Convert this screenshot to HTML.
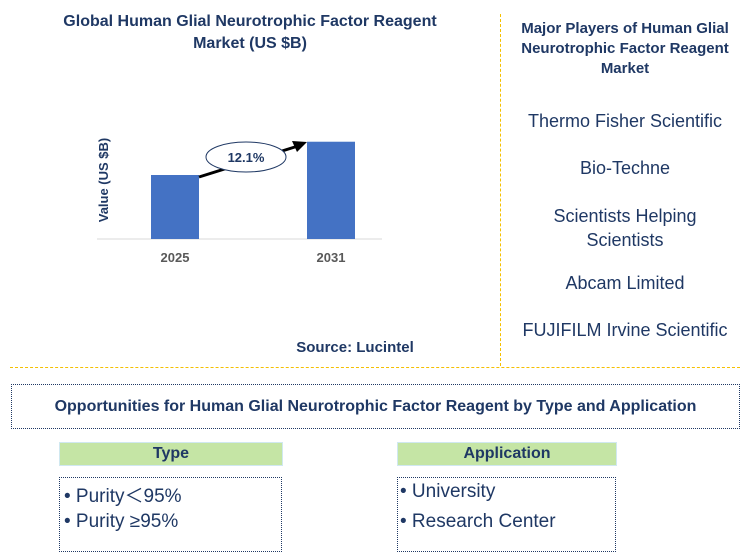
<!DOCTYPE html>
<html><head><meta charset="utf-8"><style>
body{margin:0;width:756px;height:559px;background:#fff;font-family:"Liberation Sans",Arial,sans-serif;position:relative;overflow:hidden}
.a{position:absolute}
.t{color:#1f3864;font-weight:bold;text-align:center}
.p{color:#1f3864;font-size:18px;text-align:center;width:250px;left:500px}
.box{border:1px dotted #1f3864}
.hd{background:#c5e5a5;color:#1f3864;font-weight:bold;font-size:16px;text-align:center;line-height:22px;border:1px solid #d0e8f0}
.it{color:#1f3864;font-size:19px}
</style></head><body>
<div class="a t" style="left:40px;top:11px;width:420px;font-size:16px;line-height:22px">Global Human Glial Neurotrophic Factor Reagent<br>Market (US $B)</div>
<svg class="a" style="left:0;top:0" width="500" height="360">
<text transform="translate(108,180) rotate(-90)" text-anchor="middle" font-size="13" font-weight="bold" fill="#1f3864" font-family="Liberation Sans">Value (US $B)</text>
<line x1="97" y1="239" x2="382" y2="239" stroke="#d9d9d9"/>
<g id="bars"></g>
<line x1="199" y1="177" x2="298" y2="146" stroke="#000" stroke-width="3"/>
<polygon points="307,142 292,141 297,152" fill="#000"/>
<ellipse cx="246" cy="157" rx="40" ry="15" fill="#fff" stroke="#1f3864"/>
<text x="246" y="162" text-anchor="middle" font-size="13" font-weight="bold" fill="#1f3864" font-family="Liberation Sans">12.1%</text>
</svg>
<div class="a t" style="left:270px;top:339px;width:170px;font-size:15px">Source: Lucintel</div>
<div class="a" style="left:500px;top:14px;height:352px;border-left:1px dashed #f5c000"></div>
<div class="a" style="left:10px;top:367px;width:730px;border-top:1px dashed #f5c000"></div>
<div class="a t" style="left:505px;top:19px;width:240px;font-size:15px;line-height:20px">Major Players of Human Glial Neurotrophic Factor Reagent Market</div>
<div class="a p" style="top:111px">Thermo Fisher Scientific</div>
<div class="a p" style="top:158px">Bio-Techne</div>
<div class="a p" style="top:204px;line-height:24px">Scientists Helping<br>Scientists</div>
<div class="a p" style="top:273px">Abcam Limited</div>
<div class="a p" style="top:320px">FUJIFILM Irvine Scientific</div>
<div class="a box t" style="left:11px;top:384px;width:727px;height:43px;line-height:43px;font-size:16px">Opportunities for Human Glial Neurotrophic Factor Reagent by Type and Application</div>
<div class="a hd" style="left:59px;top:442px;width:222px">Type</div>
<div class="a hd" style="left:397px;top:442px;width:218px">Application</div>
<div class="a box" style="left:59px;top:477px;width:221px;height:73px">
<div class="a it" style="left:4px;top:3px">• Purity＜95%</div>
<div class="a it" style="left:4px;top:33px">• Purity ≥95%</div></div>
<div class="a box" style="left:397px;top:477px;width:217px;height:73px">
<div class="a it" style="left:2px;top:3px">• University</div>
<div class="a it" style="left:2px;top:33px">• Research Center</div></div>
<script>
const years=["2025","2031"];
const values=[1.0,1.52];
const g=document.getElementById('bars');
const ns="http://www.w3.org/2000/svg";
const base=239,scale=64,x0=151,step=156,bw=48;
years.forEach((y,i)=>{
const r=document.createElementNS(ns,'rect');
const h=values[i]*scale;
r.setAttribute('x',x0+i*step);r.setAttribute('y',base-h);r.setAttribute('width',bw);r.setAttribute('height',h);r.setAttribute('fill','#4472c4');


g.appendChild(r);
const t=document.createElementNS(ns,'text');
t.setAttribute('x',x0+i*step+bw/2);t.setAttribute('y',262);t.setAttribute('text-anchor','middle');t.setAttribute('font-size','13');t.setAttribute('font-weight','bold');t.setAttribute('fill','#595959');t.setAttribute('font-family','Liberation Sans');
t.textContent=y;


g.appendChild(t);
});
</script>
</body></html>
